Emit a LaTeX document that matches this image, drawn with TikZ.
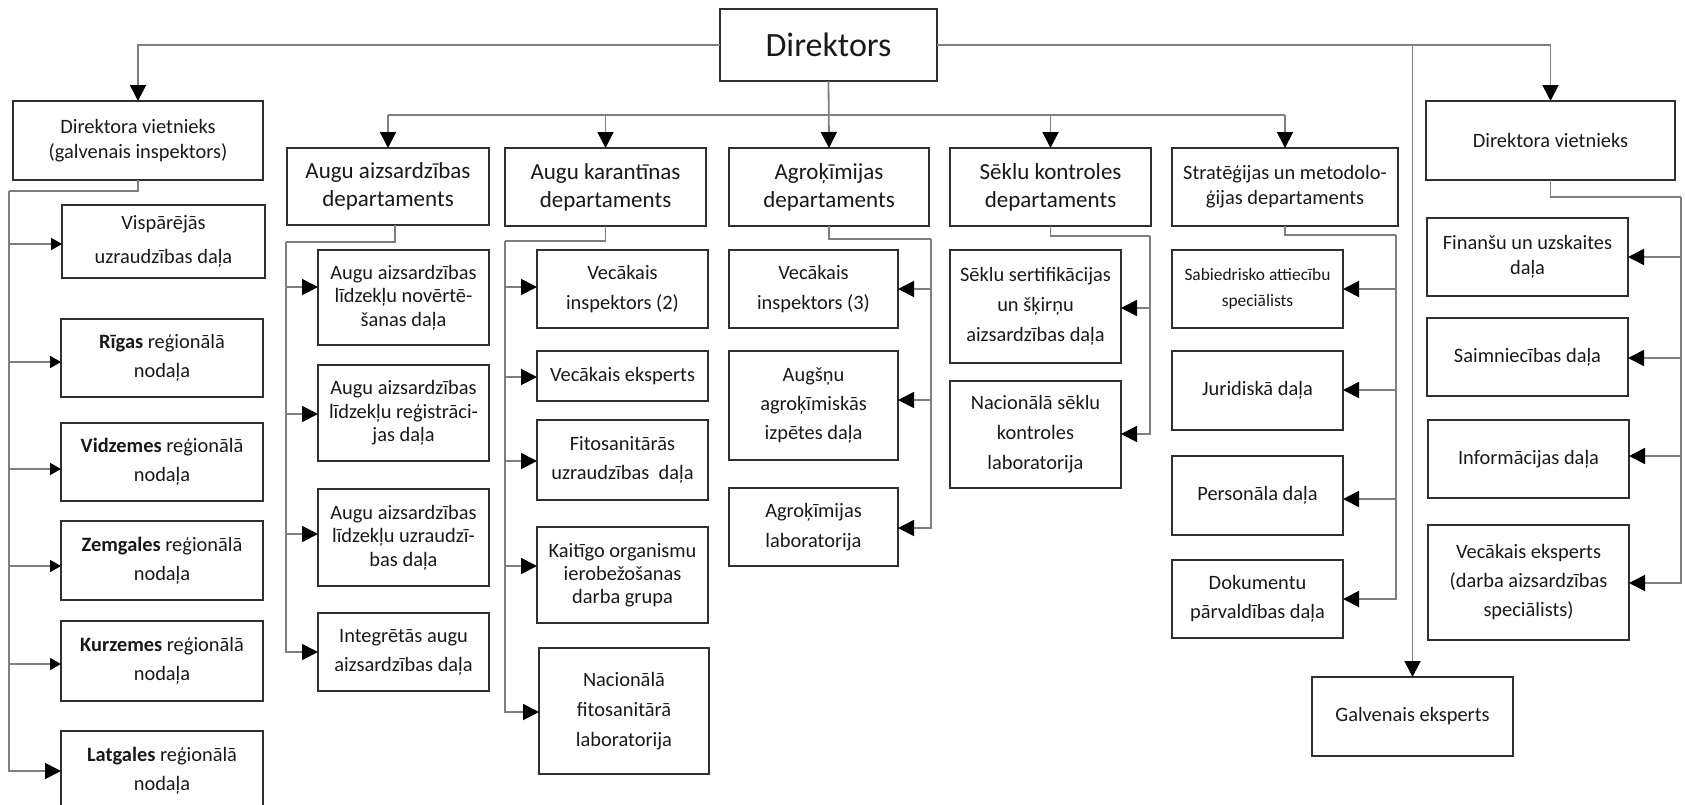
\documentclass[tikz,border=0pt]{standalone}
\usepackage{fontspec}
\setmainfont{Carlito}
\usetikzlibrary{arrows.meta,calc}
\definecolor{lin}{HTML}{7F7F7F}
\definecolor{bor}{HTML}{303030}
\tikzset{
 box/.style={draw=bor,line width=0.8pt,inner sep=0pt,outer sep=0pt,align=center,text=black!90,font=\fontsize{10.2}{14.5}\selectfont},
 conn/.style={draw=lin,line width=0.9pt},
 arrB/.style={-{Triangle[length=8pt,width=8pt,color=black]}},
 arrS/.style={-{Triangle[length=5.5pt,width=6pt,color=black]}},
 fD/.style={font=\fontsize{17}{20}\selectfont},
 fH/.style={font=\fontsize{11.5}{14}\selectfont},
 fA/.style={font=\fontsize{10.2}{12.5}\selectfont},
 fT/.style={font=\fontsize{10.2}{11.8}\selectfont},
 fF/.style={font=\fontsize{10.2}{15}\selectfont},
 fV/.style={font=\fontsize{10.2}{17}\selectfont},
 fK/.style={font=\fontsize{10.2}{11.5}\selectfont},
 fS/.style={font=\fontsize{8.7}{13.3}\selectfont},
}
\newcommand\orgbox[7][]{\node[box,minimum width={(#5-#3)*0.5pt},minimum height={(#6-#4)*0.5pt},#1] (#2) at ({(#3+#5)/2},{(#4+#6)/2}) {#7};}
\begin{document}
\begin{tikzpicture}[x=0.5pt,y=-0.5pt]
\useasboundingbox (0,0) rectangle (1685,804);
\clip (0,0) rectangle (1685,804);
% boxes
\orgbox[fD]{dir}{720}{9}{937}{81}{Direktors}
\orgbox[fA]{dv1}{13}{101}{263}{180}{Direktora vietnieks\\(galvenais inspektors)}
\orgbox[fV]{visp}{62}{205}{265}{278}{Vispārējās\\uzraudzības daļa}
\orgbox{riga}{61}{319}{263}{397}{\textbf{Rīgas} reģionālā\\nodaļa}
\orgbox{vidz}{61}{423}{263}{501}{\textbf{Vidzemes} reģionālā\\nodaļa}
\orgbox{zemg}{61}{521}{263}{600}{\textbf{Zemgales} reģionālā\\nodaļa}
\orgbox{kurz}{61}{621}{263}{701}{\textbf{Kurzemes} reģionālā\\nodaļa}
\orgbox{latg}{61}{731}{263}{810}{\textbf{Latgales} reģionālā\\nodaļa}
\orgbox[fH]{aad}{287}{148}{489}{225}{Augu aizsardzības\\departaments}
\orgbox[fT]{aad1}{318}{250}{489}{345}{Augu aizsardzības\\līdzekļu novērtē-\\šanas daļa}
\orgbox[fT]{aad2}{318}{365}{489}{461}{Augu aizsardzības\\līdzekļu reģistrāci-\\jas daļa}
\orgbox[fT]{aad3}{318}{489}{489}{586}{Augu aizsardzības\\līdzekļu uzraudzī-\\bas daļa}
\orgbox{aad4}{318}{613}{489}{691}{Integrētās augu\\aizsardzības daļa}
\orgbox[fH]{ak}{505}{148}{706}{226}{Augu karantīnas\\departaments}
\orgbox[fF]{ak1}{537}{250}{708}{328}{Vecākais\\inspektors (2)}
\orgbox{ak2}{537}{351}{708}{401}{Vecākais eksperts}
\orgbox{ak3}{537}{420}{708}{500}{Fitosanitārās\\uzraudzības\ \ daļa}
\orgbox[fK]{ak4}{537}{527}{708}{623}{Kaitīgo organismu\\ierobežošanas\\darba grupa}
\orgbox[fF]{ak5}{539}{648}{709}{774}{Nacionālā\\fitosanitārā\\laboratorija}
\orgbox[fH]{agro}{729}{148}{929}{226}{Agroķīmijas\\departaments}
\orgbox[fF]{ag1}{729}{250}{898}{328}{Vecākais\\inspektors (3)}
\orgbox{ag2}{729}{351}{898}{460}{Augšņu\\agroķīmiskās\\izpētes daļa}
\orgbox[fF]{ag3}{729}{488}{898}{566}{Agroķīmijas\\laboratorija}
\orgbox[fH]{sek}{950}{148}{1151}{226}{Sēklu kontroles\\departaments}
\orgbox[fF]{sk1}{950}{250}{1121}{363}{Sēklu sertifikācijas\\un šķirņu\\aizsardzības daļa}
\orgbox[fF]{sk2}{950}{381}{1121}{488}{Nacionālā sēklu\\kontroles\\laboratorija}
\orgbox[fA]{strat}{1172}{148}{1398}{226}{Stratēģijas un metodolo-\\ģijas departaments}
\orgbox[fS]{st1}{1172}{250}{1343}{328}{Sabiedrisko attiecību\\speciālists}
\orgbox{st2}{1172}{351}{1343}{430}{Juridiskā daļa}
\orgbox{st3}{1172}{456}{1343}{535}{Personāla daļa}
\orgbox{st4}{1172}{560}{1343}{638}{Dokumentu\\pārvaldības daļa}
\orgbox{dv2}{1426}{101}{1675}{180}{Direktora vietnieks}
\orgbox[fA]{r1}{1427}{218}{1628}{296}{Finanšu un uzskaites\\daļa}
\orgbox{r2}{1427}{318}{1628}{396}{Saimniecības daļa}
\orgbox{r3}{1428}{420}{1629}{498}{Informācijas daļa}
\orgbox{r4}{1428}{525}{1629}{640}{Vecākais eksperts\\(darba aizsardzības\\speciālists)}
\orgbox{galv}{1312}{677}{1513}{756}{Galvenais eksperts}
% top level
\draw[conn,arrB] (dir.west) -| (dv1.north);
\draw[conn,arrB] (dir.east) -| (dv2.north);
\draw[conn,arrB] (dir.east -| galv.north) -- (galv.north);
\coordinate (bus) at (0,115);
\draw[conn] (aad.north |- bus) -- (strat.north |- bus);
\draw[conn,arrB] (dir.south) -- (agro.north);
\foreach \n in {aad,ak,sek,strat} \draw[conn,arrB] (\n.north |- bus) -- (\n.north);
% left deputy
\coordinate (lb) at (9,191);
\draw[conn] (dv1.south) |- (lb);
\draw[conn,arrB] (lb) |- (latg.west |- 0,771);
\foreach \n/\y in {visp/244,riga/362,vidz/469,zemg/566,kurz/664}
  \draw[conn,arrS] (lb |- 0,\y) -- (\n.west |- 0,\y);
% AAD
\coordinate (ab) at (286,242);
\draw[conn] ([xshift=3.5pt]aad.south) |- (ab);
\draw[conn,arrB] (ab) |- (aad4.west |- 0,652);
\foreach \n/\y in {aad1/287,aad2/414,aad3/534}
  \draw[conn,arrB] (ab |- 0,\y) -- (\n.west |- 0,\y);
% AK
\coordinate (kb) at (505,241);
\draw[conn] (ak.south) |- (kb);
\draw[conn,arrB] (kb) |- (ak5.west |- 0,712);
\foreach \n/\y in {ak1/287,ak2/377,ak3/461,ak4/566}
  \draw[conn,arrB] (kb |- 0,\y) -- (\n.west |- 0,\y);
% Agro
\coordinate (gb) at (931,239);
\draw[conn] (agro.south) |- (gb);
\draw[conn,arrB] (gb) |- (ag3.east |- 0,528);
\foreach \n/\y in {ag1/289,ag2/400}
  \draw[conn,arrB] (gb |- 0,\y) -- (\n.east |- 0,\y);
% Seklu
\coordinate (sb) at (1150,236);
\draw[conn] (sek.south) |- (sb);
\draw[conn,arrB] (sb) |- (sk2.east |- 0,434);
\draw[conn,arrB] (sb |- 0,308) -- (sk1.east |- 0,308);
% Strat
\coordinate (tb) at (1396,235);
\draw[conn] (strat.south) |- (tb);
\draw[conn,arrB] (tb) |- (st4.east |- 0,599);
\foreach \n/\y in {st1/289,st2/390,st3/499}
  \draw[conn,arrB] (tb |- 0,\y) -- (\n.east |- 0,\y);
% right deputy
\coordinate (rb) at (1681,197);
\draw[conn] (dv2.south) |- (rb);
\draw[conn,arrB] (rb) |- (r4.east |- 0,583);
\foreach \n/\y in {r1/257,r2/358,r3/456}
  \draw[conn,arrB] (rb |- 0,\y) -- (\n.east |- 0,\y);
\end{tikzpicture}
\end{document}
